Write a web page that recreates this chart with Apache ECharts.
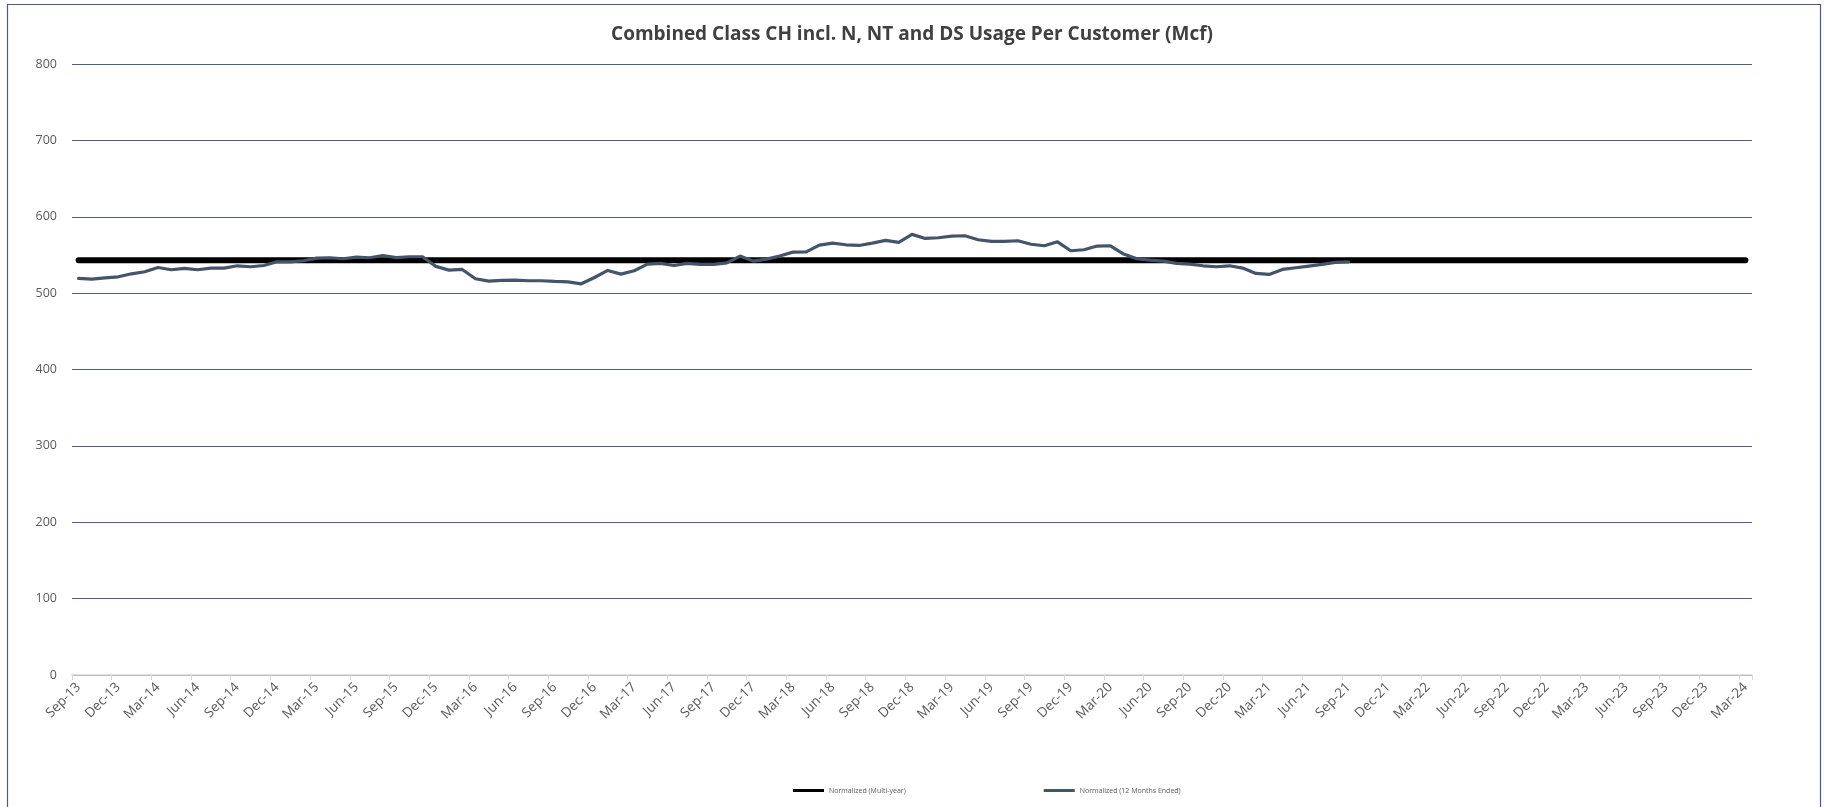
<!DOCTYPE html>
<html>
<head>
<meta charset="utf-8">
<title>Combined Class CH Usage Per Customer</title>
<script src="https://cdn.jsdelivr.net/npm/echarts@6/dist/echarts.min.js"></script>
<style>
  html, body { margin: 0; padding: 0; background: #ffffff; }
  #chart { width: 1824px; height: 807px; }
</style>
</head>
<body>
<div id="chart"></div>
<script>
// Monthly categories, Sep-13 through Mar-24
const months = [
  'Sep-13','Oct-13','Nov-13','Dec-13',
  'Jan-14','Feb-14','Mar-14','Apr-14','May-14','Jun-14','Jul-14','Aug-14','Sep-14','Oct-14','Nov-14','Dec-14',
  'Jan-15','Feb-15','Mar-15','Apr-15','May-15','Jun-15','Jul-15','Aug-15','Sep-15','Oct-15','Nov-15','Dec-15',
  'Jan-16','Feb-16','Mar-16','Apr-16','May-16','Jun-16','Jul-16','Aug-16','Sep-16','Oct-16','Nov-16','Dec-16',
  'Jan-17','Feb-17','Mar-17','Apr-17','May-17','Jun-17','Jul-17','Aug-17','Sep-17','Oct-17','Nov-17','Dec-17',
  'Jan-18','Feb-18','Mar-18','Apr-18','May-18','Jun-18','Jul-18','Aug-18','Sep-18','Oct-18','Nov-18','Dec-18',
  'Jan-19','Feb-19','Mar-19','Apr-19','May-19','Jun-19','Jul-19','Aug-19','Sep-19','Oct-19','Nov-19','Dec-19',
  'Jan-20','Feb-20','Mar-20','Apr-20','May-20','Jun-20','Jul-20','Aug-20','Sep-20','Oct-20','Nov-20','Dec-20',
  'Jan-21','Feb-21','Mar-21','Apr-21','May-21','Jun-21','Jul-21','Aug-21','Sep-21','Oct-21','Nov-21','Dec-21',
  'Jan-22','Feb-22','Mar-22','Apr-22','May-22','Jun-22','Jul-22','Aug-22','Sep-22','Oct-22','Nov-22','Dec-22',
  'Jan-23','Feb-23','Mar-23','Apr-23','May-23','Jun-23','Jul-23','Aug-23','Sep-23','Oct-23','Nov-23','Dec-23',
  'Jan-24','Feb-24','Mar-24'
];

// Normalized (Multi-year) usage, Mcf
const multiYear = [
  543,543,543,543,543,543,543,543,543,543,543,543,543,543,543,543,543,543,543,543,
  543,543,543,543,543,543,543,543,543,543,543,543,543,543,543,543,543,543,543,543,
  543,543,543,543,543,543,543,543,543,543,543,543,543,543,543,543,543,543,543,543,
  543,543,543,543,543,543,543,543,543,543,543,543,543,543,543,543,543,543,543,543,
  543,543,543,543,543,543,543,543,543,543,543,543,543,543,543,543,543,543,543,543,
  543,543,543,543,543,543,543,543,543,543,543,543,543,543,543,543,543,543,543,543,
  543,543,543,543,543,543,543
];

// Normalized (12 Months Ended) usage, Mcf, Sep-13 through Sep-21
const twelveMonth = [
  519.2, 518.3, 520.0, 521.4, 525.3, 528.0, 533.6, 530.6, 532.3, 530.6, 532.8, 532.8,
  535.8, 534.5, 536.2, 541.0, 541.0, 542.4, 545.9, 546.3, 545.0, 547.2, 546.3, 549.3,
  546.5, 547.6, 547.6, 535.0, 530.1, 531.0, 518.8, 515.7, 516.6, 517.0, 516.2, 516.2,
  515.3, 514.8, 512.2, 520.5, 529.7, 524.9, 529.3, 538.0, 538.9, 536.2, 538.9, 537.6,
  537.6, 539.7, 548.5, 541.9, 544.5, 548.5, 553.7, 554.1, 562.9, 565.5, 563.3, 562.4,
  565.5, 569.0, 566.4, 576.9, 571.6, 572.5, 574.7, 575.1, 569.9, 567.7, 567.7, 568.6,
  564.0, 562.0, 567.2, 555.5, 556.8, 561.6, 562.0, 551.1, 545.0, 543.2, 541.9, 538.9,
  538.0, 535.8, 534.5, 535.8, 532.8, 525.8, 524.5, 531.0, 533.2, 535.4, 537.6, 540.2,
  541.0
];

const yTicks = { min: 0, max: 800, interval: 100 };

const chart = echarts.init(document.getElementById('chart'), null, { renderer: 'canvas' });

const labelFont = '"Open Sans", "Noto Sans", sans-serif';

chart.setOption({
  animation: false,
  backgroundColor: '#ffffff',
  title: {
    text: 'Combined Class CH incl. N, NT and DS Usage Per Customer (Mcf)',
    left: 'center',
    top: 20,
    textStyle: { fontFamily: labelFont, fontWeight: 'bold', fontSize: 19, color: '#404040' }
  },
  graphic: [{
    type: 'rect',
    shape: { x: 7.5, y: 4.5, width: 1813, height: 830 },
    style: { fill: 'none', stroke: '#4b5b78', lineWidth: 1.2 },
    silent: true
  }],
  legend: {
    left: 788,
    top: 782,
    itemWidth: 31,
    itemHeight: 3,
    itemGap: 138,
    icon: 'rect',
    textStyle: { fontFamily: labelFont, fontSize: 7, color: '#595959' },
    data: ['Normalized (Multi-year)', 'Normalized (12 Months Ended)']
  },
  grid: { left: 72, right: 72, top: 64, bottom: 132, containLabel: false },
  xAxis: {
    type: 'category',
    data: months,
    boundaryGap: true,
    axisLine: { show: true, lineStyle: { color: '#d9d9d9', width: 1.5 } },
    axisTick: { show: true, interval: 2, length: 5, lineStyle: { color: '#d9d9d9' } },
    axisLabel: {
      interval: 2,
      rotate: 45,
      margin: 10,
      fontFamily: labelFont,
      fontSize: 13.5,
      color: '#595959'
    },
    splitLine: { show: false }
  },
  yAxis: {
    type: 'value',
    min: yTicks.min,
    max: yTicks.max,
    interval: yTicks.interval,
    axisLine: { show: false },
    axisTick: { show: false },
    axisLabel: { margin: 15, fontFamily: labelFont, fontSize: 12.5, color: '#595959' },
    splitLine: { show: true, lineStyle: { color: '#50607c', width: 1 } }
  },
  series: [
    {
      name: 'Normalized (Multi-year)',
      type: 'line',
      data: multiYear,
      showSymbol: false,
      symbol: 'none',
      lineStyle: { color: '#000000', width: 6, cap: 'round' },
      itemStyle: { color: '#000000' },
      z: 2
    },
    {
      name: 'Normalized (12 Months Ended)',
      type: 'line',
      data: twelveMonth,
      showSymbol: false,
      symbol: 'none',
      lineStyle: { color: '#44546a', width: 3.2, cap: 'round', join: 'round' },
      itemStyle: { color: '#44546a' },
      z: 3
    }
  ]
});
</script>
</body>
</html>
